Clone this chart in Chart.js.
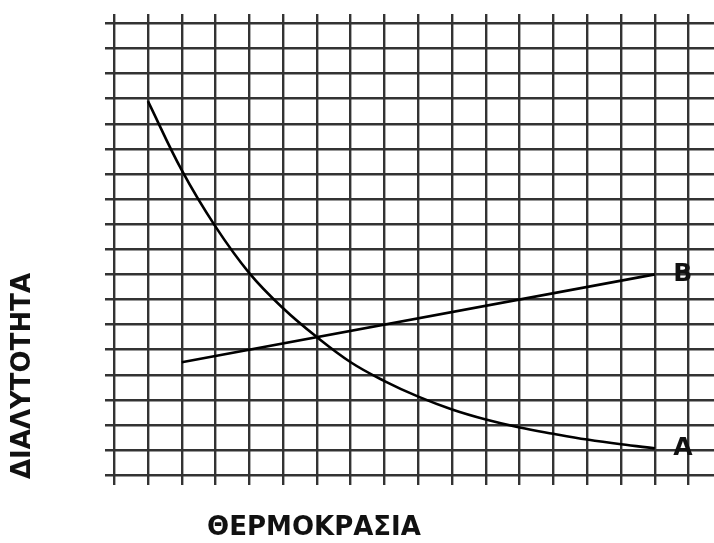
<!DOCTYPE html>
<html>
<head>
<meta charset="utf-8">
<script src="https://cdn.jsdelivr.net/npm/chart.js@4/dist/chart.umd.min.js"></script>
<style>
  body { margin: 0; background: #fff; }
</style>
</head>
<body>
<canvas id="solChart" width="714" height="543"></canvas>
<script>
var tempA = [1, 2, 3, 4, 5, 6, 7, 8, 9, 10, 11, 12, 13, 14, 15, 16];
var solA = [14.9, 12.15, 9.9, 8.05, 6.65, 5.5, 4.5, 3.75, 3.13, 2.62, 2.22, 1.9, 1.65, 1.42, 1.23, 1.07];
var tempB = [2, 16];
var solB = [4.5, 8];
var xTitle = 'ΘΕΡΜΟΚΡΑΣΙΑ';
var yTitle = 'ΔΙΑΛΥΤΟΤΗΤΑ';

function toPoints(xs, ys) {
  return xs.map(function (x, i) { return { x: x, y: ys[i] }; });
}

// end labels (A, B) and the two axis titles
var labelsPlugin = {
  id: 'labelsPlugin',
  afterDraw: function (chart) {
    var ctx = chart.ctx;
    ctx.save();
    ctx.fillStyle = '#111';
    ctx.font = 'bold 25px "DejaVu Sans"';
    ctx.textAlign = 'center';
    ctx.textBaseline = 'middle';
    chart.data.datasets.forEach(function (ds, i) {
      var pts = chart.getDatasetMeta(i).data;
      var last = pts[pts.length - 1];
      ctx.fillText(ds.label, last.x + 28, last.y);
    });

    ctx.font = 'bold 26px "DejaVu Sans"';
    ctx.fillText(xTitle, 314, 528);
    ctx.translate(23, 376);
    ctx.rotate(-Math.PI / 2);
    ctx.fillText(yTitle, 0, 0);
    ctx.restore();
  }
};

var gridOpts = { color: '#333', lineWidth: 2.4, drawTicks: false };

new Chart(document.getElementById('solChart'), {
  type: 'line',
  data: {
    datasets: [{
      label: 'A',
      data: toPoints(tempA, solA),
      borderColor: '#000',
      borderWidth: 2.6,
      pointRadius: 0,
      tension: 0.4,
      fill: false
    }, {
      label: 'B',
      data: toPoints(tempB, solB),
      borderColor: '#000',
      borderWidth: 2.6,
      pointRadius: 0,
      fill: false
    }]
  },
  options: {
    responsive: false,
    animation: false,
    layout: { padding: { left: 105, right: 0, top: 14, bottom: 58 } },
    plugins: { legend: { display: false }, tooltip: { enabled: false } },
    scales: {
      x: {
        type: 'linear',
        min: -0.27,
        max: 17.75,
        border: { display: false },
        grid: gridOpts,
        ticks: { display: false, stepSize: 1, includeBounds: false }
      },
      y: {
        type: 'linear',
        min: -0.39,
        max: 18.37,
        border: { display: false },
        grid: gridOpts,
        ticks: { display: false, stepSize: 1, includeBounds: false }
      }
    }
  },
  plugins: [labelsPlugin]
});
</script>
</body>
</html>
